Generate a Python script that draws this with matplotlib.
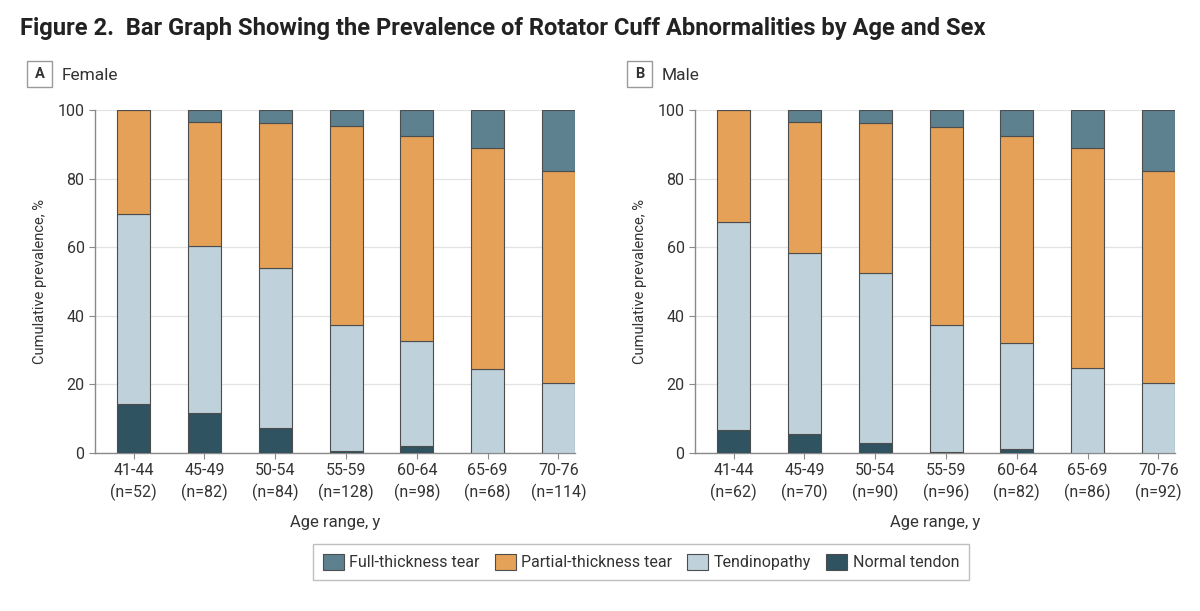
"""Figure 2 recreation: stacked prevalence of rotator cuff abnormalities by age and sex."""
import numpy as np
import matplotlib
matplotlib.use('Agg')
import matplotlib.pyplot as plt
from matplotlib.patches import Rectangle, Patch

plt.rcParams['font.family'] = ['Roboto', 'DejaVu Sans']

ages = ['41-44', '45-49', '50-54', '55-59', '60-64', '65-69', '70-76']
n_female = [52, 82, 84, 128, 98, 68, 114]
n_male = [62, 70, 90, 96, 82, 86, 92]

# segment percentages, bottom to top
female_normal = [14.3, 11.6, 7.2, 0.6, 1.9, 0.0, 0.0]
female_tendinopathy = [55.5, 48.8, 46.8, 36.6, 30.7, 24.4, 20.5]
female_partial = [30.2, 36.2, 42.3, 58.1, 59.9, 64.6, 61.6]
female_full = [0.0, 3.4, 3.7, 4.7, 7.5, 11.0, 17.9]

male_normal = [6.8, 5.6, 2.9, 0.4, 1.1, 0.0, 0.0]
male_tendinopathy = [60.5, 52.7, 49.6, 36.8, 30.9, 24.7, 20.5]
male_partial = [32.7, 38.1, 43.7, 57.8, 60.3, 64.3, 61.6]
male_full = [0.0, 3.6, 3.8, 5.0, 7.7, 11.0, 17.9]

categories = ['Full-thickness tear', 'Partial-thickness tear', 'Tendinopathy', 'Normal tendon']
colors = {'Full-thickness tear': '#5d818f', 'Partial-thickness tear': '#e5a157',
          'Tendinopathy': '#bfd1da', 'Normal tendon': '#2f5361'}
edge = '#4d4d4d'
txt = '#333333'
W, H = 1200, 611

fig = plt.figure(figsize=(W / 100, H / 100), dpi=100)

fig.text(20 / W, 1 - 28 / H, 'Figure 2.  Bar Graph Showing the Prevalence of Rotator Cuff Abnormalities by Age and Sex',
         fontsize=17.1, fontweight='bold', color='#222222', va='center')


def panel(x0, letter, name, normal, tend, partial, full, ns, box_x):
    ax = fig.add_axes([x0 / W, 1 - 453 / H, 480 / W, 343 / H])
    x = np.arange(len(ages))
    bottom = np.zeros(len(ages))
    for vals, cat in [(normal, 'Normal tendon'), (tend, 'Tendinopathy'),
                      (partial, 'Partial-thickness tear'), (full, 'Full-thickness tear')]:
        vals = np.asarray(vals)
        ax.bar(x, vals, 0.466, bottom=bottom, color=colors[cat], edgecolor=edge, lw=0.8, zorder=3)
        bottom += vals
    ax.set_xlim(-0.544, 6.233)
    ax.set_ylim(0, 100)
    ax.set_yticks([0, 20, 40, 60, 80, 100])
    ax.yaxis.grid(True, color='#e3e3e3', lw=0.9, zorder=0)
    ax.set_xticks(x)
    ax.set_xticklabels(['%s\n(n=%d)' % (a, n) for a, n in zip(ages, ns)], linespacing=1.4)
    for s in ['top', 'right']:
        ax.spines[s].set_visible(False)
    for s in ['left', 'bottom']:
        ax.spines[s].set_color('#8a8a8a')
        ax.spines[s].set_linewidth(1.0)
    ax.tick_params(colors='#8a8a8a', labelcolor=txt, labelsize=11.5, length=4)
    ax.set_xlabel('Age range, y', fontsize=12, color=txt, labelpad=10)
    ax.set_ylabel('Cumulative prevalence, %', fontsize=10.5, color=txt, labelpad=7.5)
    # panel letter box
    fig.patches.append(Rectangle((box_x / W, 1 - 87 / H), 25 / W, 26 / H,
                                 transform=fig.transFigure, fill=False, ec='#9a9a9a', lw=1.0))
    fig.text((box_x + 12.5) / W, 1 - 74.5 / H, letter, fontsize=10.5, fontweight='bold',
             color=txt, ha='center', va='center')
    fig.text((box_x + 35) / W, 1 - 75.5 / H, name, fontsize=12.5, color=txt, va='center')
    return ax


panel(95, 'A', 'Female', female_normal, female_tendinopathy,
      female_partial, female_full, n_female, 27)
panel(695, 'B', 'Male', male_normal, male_tendinopathy,
      male_partial, male_full, n_male, 627)

handles = [Patch(facecolor=colors[c], edgecolor=edge, lw=0.8) for c in categories]
leg = fig.legend(handles, categories, loc='center', bbox_to_anchor=(641 / W, 1 - 562 / H), ncol=4,
                 fontsize=11.5, frameon=True, fancybox=False, edgecolor='#b0b0b0',
                 handlelength=1.3, handleheight=1.25, handletextpad=0.35, columnspacing=0.95,
                 borderpad=0.6)
leg.get_frame().set_linewidth(1.0)
for t in leg.get_texts():
    t.set_color(txt)

fig.savefig('out.png', dpi=100)
